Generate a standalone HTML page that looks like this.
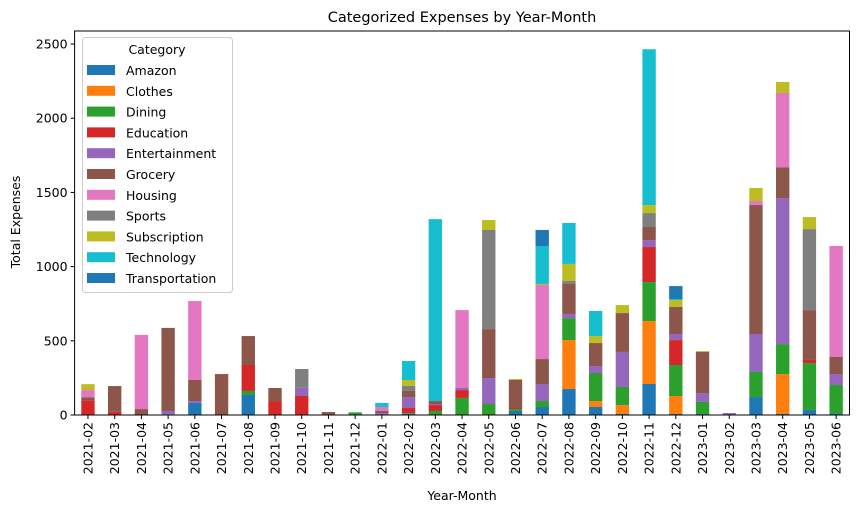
<!DOCTYPE html>
<html><head><meta charset="utf-8"><style>
body{margin:0;background:#fff;}
svg{display:block;font-family:"DejaVu Sans","Liberation Sans",sans-serif;}
</style></head><body>
<svg id="chart" width="859" height="512">
<text x="462" y="22" font-size="14.5" text-anchor="middle">Categorized Expenses by Year-Month</text>
<text x="462" y="500" font-size="12.5" text-anchor="middle">Year-Month</text>
<text transform="translate(20,222) rotate(-90)" font-size="12.5" text-anchor="middle">Total Expenses</text>
<g id="bars"></g><g id="axes"></g><g id="legend"></g>
</svg>
<script>
const months=["2021-02","2021-03","2021-04","2021-05","2021-06","2021-07","2021-08","2021-09","2021-10","2021-11","2021-12","2022-01","2022-02","2022-03","2022-04","2022-05","2022-06","2022-07","2022-08","2022-09","2022-10","2022-11","2022-12","2023-01","2023-02","2023-03","2023-04","2023-05","2023-06"];
const categories=["Amazon","Clothes","Dining","Education","Entertainment","Grocery","Housing","Sports","Subscription","Technology","Transportation"];
const colors=["#1f77b4","#ff7f0e","#2ca02c","#d62728","#9467bd","#8c564b","#e377c2","#7f7f7f","#bcbd22","#17becf","#1f77b4"];
const amazon=[0,0,0,5,81,0,135,0,0,0,0,0,9,0,0,0,27,54,175,54,7,209,7,7,0,121,7,34,7];
const clothes=[0,0,0,0,0,0,0,0,0,0,0,0,0,0,0,0,0,0,330,40,60,424,121,0,0,0,269,0,0];
const dining=[0,0,0,0,0,0,27,0,0,0,18,0,4,27,115,74,13,40,148,189,122,263,209,81,0,169,202,316,195];
const education=[100,22,0,0,0,0,175,94,128,0,0,0,34,40,53,0,7,0,0,0,0,236,168,0,0,0,0,21,0];
const entertainment=[0,0,0,22,13,0,0,0,56,0,0,13,74,7,14,175,0,115,28,47,236,47,41,60,13,256,984,0,74];
const grocery=[20,173,40,560,142,276,195,88,0,20,0,14,41,20,0,330,189,168,202,155,262,88,182,277,0,869,208,336,115];
const housing=[48,0,500,0,532,0,0,0,0,0,0,27,0,0,525,0,0,499,0,0,0,0,0,0,0,27,500,0,748];
const sports=[0,0,0,0,0,0,0,0,126,0,0,0,34,0,0,668,0,0,20,0,0,94,0,0,0,0,0,546,0];
const subscription=[40,0,0,0,0,0,0,0,0,0,0,0,40,0,0,67,7,7,115,47,54,54,47,6,0,88,75,81,0];
const technology=[0,0,0,0,0,0,0,0,0,0,0,27,128,1226,0,0,0,256,276,169,0,1050,7,0,0,0,0,0,0];
const transportation=[0,0,0,0,0,0,0,0,0,0,0,0,0,0,0,0,0,108,0,0,0,0,87,0,0,0,0,0,0];
const yTicks=[0,500,1000,1500,2000,2500];
const series=[amazon,clothes,dining,education,entertainment,grocery,housing,sports,subscription,technology,transportation];
const NS="http://www.w3.org/2000/svg";
const L=74.6,R=849.5,T=31,B=415,YMAX=2588;
const xs=i=>L+(R-L)*(i+0.5)/months.length;
const ys=v=>B-(B-T)*v/YMAX;
const bw=(R-L)/months.length*0.5;
function mk(tag,attrs,parent){const e=document.createElementNS(NS,tag);for(const k in attrs)e.setAttribute(k,attrs[k]);parent.appendChild(e);return e;}
const gb=document.getElementById('bars'),ga=document.getElementById('axes'),gl=document.getElementById('legend');
months.forEach((m,i)=>{let cum=0;series.forEach((s,k)=>{const v=s[i];if(v>0){const r=mk('rect',{x:xs(i)-bw/2,y:ys(cum+v),width:bw,height:ys(cum)-ys(cum+v),fill:colors[k]},gb);

}cum+=v;});});
const fr=mk('rect',{x:L,y:T,width:R-L,height:B-T,fill:'none',stroke:'#000','stroke-width':1},ga);


yTicks.forEach(t=>{const y=ys(t);mk('line',{x1:L-4,x2:L,y1:y,y2:y,stroke:'#000'},ga);const tx=mk('text',{x:L-7,y:y+4.5,'font-size':12.5,'text-anchor':'end'},ga);tx.textContent=t;

});
months.forEach((m,i)=>{const x=xs(i);mk('line',{x1:x,x2:x,y1:B,y2:B+4,stroke:'#000'},ga);const tx=mk('text',{transform:`translate(${x+4.5},${B+7}) rotate(-90)`,'font-size':12.5,'text-anchor':'end'},ga);tx.textContent=m;

});
const lb=mk('rect',{x:82.5,y:37.5,width:150,height:255,rx:3,fill:'#fff','fill-opacity':0.8,stroke:'#ccc'},gl);


const lt=mk('text',{x:157,y:54,'font-size':12.5,'text-anchor':'middle'},gl);lt.textContent='Category';


categories.forEach((c,k)=>{const y=65+k*20.8;const r=mk('rect',{x:87,y:y,width:28,height:10,fill:colors[k]},gl);


const t=mk('text',{x:126,y:y+10,'font-size':12.5},gl);t.textContent=c;

});
</script>
</body></html>
